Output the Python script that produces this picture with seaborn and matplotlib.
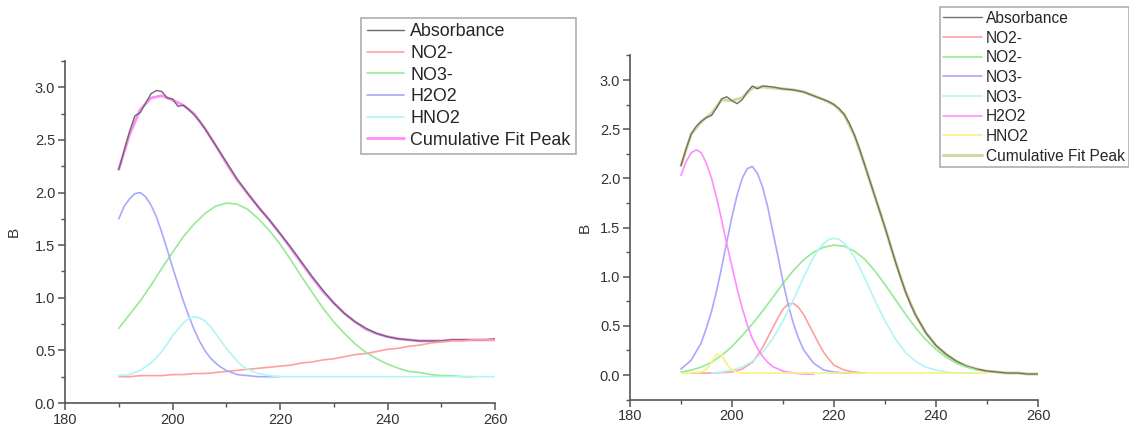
import numpy as np
import matplotlib
matplotlib.use("Agg")
import matplotlib.pyplot as plt
import seaborn as sns
from matplotlib.ticker import MultipleLocator, FormatStrFormatter

# ---- left panel (wavelength, nm) ----
L_x = [190, 192, 194, 196, 198, 200, 202, 204, 206, 208, 210, 212, 214, 216, 218,
       220, 222, 224, 226, 228, 230, 232, 234, 236, 238, 240, 242, 244, 246, 248,
       250, 252, 254, 256, 258, 260]
L_no2 = [0.25, 0.25, 0.26, 0.26, 0.26, 0.27, 0.27, 0.28, 0.28, 0.29, 0.30, 0.31, 0.32, 0.33, 0.34,
         0.35, 0.36, 0.38, 0.39, 0.41, 0.42, 0.44, 0.46, 0.47, 0.49, 0.51, 0.52, 0.54, 0.55, 0.57,
         0.58, 0.59, 0.59, 0.60, 0.60, 0.60]
L_fit = [2.22, 2.55, 2.79, 2.90, 2.92, 2.88, 2.83, 2.75, 2.61, 2.45, 2.28, 2.12, 1.99, 1.86, 1.74,
         1.61, 1.47, 1.33, 1.19, 1.06, 0.95, 0.85, 0.77, 0.70, 0.66, 0.63, 0.61, 0.60, 0.59, 0.59,
         0.59, 0.60, 0.60, 0.60, 0.60, 0.60]
L_no3_x = [190, 192, 194, 196, 198, 200, 202, 204, 206, 208, 210, 212, 214, 216, 218, 220, 222,
           224, 226, 228, 230, 232, 234, 236, 238, 240, 242, 244, 246, 248, 250, 252, 254, 256]
L_no3 = [0.71, 0.84, 0.97, 1.12, 1.28, 1.43, 1.58, 1.70, 1.80, 1.87, 1.90, 1.89, 1.84, 1.75, 1.64,
         1.51, 1.36, 1.20, 1.05, 0.90, 0.77, 0.66, 0.56, 0.48, 0.42, 0.37, 0.33, 0.30, 0.29, 0.27,
         0.26, 0.26, 0.25, 0.25]
L_h2o2_x = [190, 191, 192, 193, 194, 195, 196, 197, 198, 199, 200, 201, 202, 203, 204, 205, 206,
            207, 208, 209, 210, 212, 214, 216, 218, 220]
L_h2o2 = [1.75, 1.87, 1.94, 1.99, 2.00, 1.96, 1.88, 1.77, 1.62, 1.46, 1.29, 1.13, 0.97, 0.83, 0.70,
          0.59, 0.50, 0.43, 0.38, 0.34, 0.31, 0.27, 0.26, 0.25, 0.25, 0.25]
L_hno2_x = [190, 192, 194, 196, 197, 198, 199, 200, 201, 202, 203, 204, 205, 206, 207, 208, 209,
            210, 211, 212, 213, 214, 216, 218, 220, 240, 260]
L_hno2 = [0.26, 0.27, 0.31, 0.38, 0.43, 0.49, 0.56, 0.64, 0.70, 0.76, 0.80, 0.82, 0.81, 0.78, 0.73,
          0.66, 0.59, 0.52, 0.46, 0.40, 0.35, 0.32, 0.28, 0.26, 0.25, 0.25, 0.25]
L_abs_x = [190, 191, 192, 193, 194, 195, 196, 197, 198, 199, 200, 201, 202, 203, 204, 205, 206,
           208, 210, 212, 214, 216, 218, 220, 222, 224, 226, 228, 230, 232, 234, 236, 238, 240,
           242, 244, 246, 248, 250, 252, 254, 256, 258, 260]
L_abs = [2.22, 2.40, 2.58, 2.73, 2.76, 2.85, 2.94, 2.97, 2.96, 2.90, 2.89, 2.82, 2.83, 2.79, 2.74,
         2.68, 2.61, 2.45, 2.29, 2.13, 1.99, 1.86, 1.74, 1.61, 1.48, 1.34, 1.20, 1.07, 0.95, 0.85,
         0.77, 0.71, 0.66, 0.63, 0.61, 0.60, 0.59, 0.59, 0.59, 0.60, 0.60, 0.60, 0.60, 0.61]

# ---- right panel ----
R_x = [190, 192, 194, 196, 198, 200, 202, 204, 206, 208, 210, 212, 214, 216, 218,
       220, 222, 224, 226, 228, 230, 232, 234, 236, 238, 240, 242, 244, 246, 248,
       250, 252, 254, 256, 258, 260]
R_fit = [2.13, 2.45, 2.58, 2.66, 2.80, 2.79, 2.82, 2.92, 2.93, 2.92, 2.91, 2.90, 2.88, 2.84, 2.80,
         2.75, 2.65, 2.44, 2.14, 1.82, 1.50, 1.16, 0.85, 0.61, 0.43, 0.30, 0.21, 0.14, 0.09, 0.06,
         0.04, 0.03, 0.02, 0.02, 0.01, 0.01]
R_no2a_x = [192, 196, 200, 202, 204, 205, 206, 207, 208, 209, 210, 211, 212, 213, 214, 215, 216,
            217, 218, 219, 220, 222, 224, 226]
R_no2a = [0.02, 0.02, 0.03, 0.06, 0.13, 0.20, 0.28, 0.38, 0.48, 0.58, 0.67, 0.72, 0.73, 0.69, 0.62,
          0.52, 0.42, 0.32, 0.23, 0.16, 0.10, 0.05, 0.03, 0.02]
R_no2b_x = [190, 192, 194, 196, 198, 200, 202, 204, 206, 208, 210, 212, 214, 216, 218, 220, 222,
            224, 226, 228, 230, 232, 234, 236, 238, 240, 242, 244, 246, 248]
R_no2b = [0.03, 0.05, 0.08, 0.13, 0.20, 0.29, 0.40, 0.52, 0.65, 0.79, 0.93, 1.06, 1.17, 1.25, 1.30,
          1.32, 1.31, 1.26, 1.18, 1.06, 0.92, 0.77, 0.62, 0.48, 0.36, 0.26, 0.18, 0.12, 0.08, 0.05]
R_no3a_x = [190, 192, 194, 195, 196, 197, 198, 199, 200, 201, 202, 203, 204, 205, 206, 207, 208,
            209, 210, 211, 212, 213, 214, 216, 218, 220, 222, 224, 226]
R_no3a = [0.06, 0.15, 0.33, 0.48, 0.65, 0.86, 1.10, 1.36, 1.61, 1.83, 2.00, 2.10, 2.12, 2.05, 1.91,
          1.71, 1.46, 1.21, 0.95, 0.72, 0.53, 0.38, 0.26, 0.12, 0.05, 0.03, 0.02, 0.02, 0.02]
R_no3b_x = [196, 198, 200, 202, 204, 206, 208, 210, 212, 214, 216, 217, 218, 219, 220, 221, 222,
            223, 224, 226, 228, 230, 232, 234, 236, 238, 240, 242, 244, 246, 248]
R_no3b = [0.02, 0.03, 0.05, 0.08, 0.14, 0.23, 0.37, 0.55, 0.76, 0.99, 1.20, 1.28, 1.34, 1.38, 1.39,
          1.38, 1.34, 1.28, 1.20, 0.99, 0.76, 0.55, 0.37, 0.23, 0.14, 0.08, 0.05, 0.03, 0.02, 0.02,
          0.02]
R_h2o2_x = [190, 191, 192, 193, 194, 195, 196, 197, 198, 199, 200, 201, 202, 203, 204, 205, 206,
            207, 208, 210, 212, 214, 216]
R_h2o2 = [2.03, 2.17, 2.26, 2.29, 2.26, 2.15, 2.00, 1.80, 1.57, 1.33, 1.10, 0.88, 0.68, 0.51, 0.37,
          0.27, 0.19, 0.13, 0.085, 0.04, 0.02, 0.01, 0.01]
R_hno2_x = [190, 192, 194, 195, 196, 197, 198, 199, 200, 201, 202, 206, 210, 220, 230, 240, 250]
R_hno2 = [0.02, 0.02, 0.03, 0.06, 0.13, 0.21, 0.20, 0.11, 0.05, 0.03, 0.02, 0.02, 0.02, 0.02,
          0.02, 0.02, 0.02]
R_abs_x = [190, 191, 192, 193, 194, 195, 196, 197, 198, 199, 200, 201, 202, 203, 204, 205, 206,
           208, 210, 212, 214, 216, 218, 219, 220, 221, 222, 223, 224, 225, 226, 227, 228, 229,
           230, 231, 232, 233, 234, 235, 236, 238, 240, 242, 244, 246, 248, 250, 252, 254, 256,
           258, 260]
R_abs = [2.13, 2.30, 2.45, 2.53, 2.58, 2.62, 2.64, 2.72, 2.81, 2.83, 2.79, 2.76, 2.80, 2.88, 2.94,
         2.91, 2.94, 2.93, 2.91, 2.90, 2.88, 2.84, 2.80, 2.78, 2.75, 2.71, 2.65, 2.56, 2.44, 2.30,
         2.14, 1.98, 1.82, 1.66, 1.50, 1.33, 1.16, 1.00, 0.85, 0.72, 0.61, 0.43, 0.30, 0.21, 0.14,
         0.09, 0.06, 0.04, 0.03, 0.02, 0.02, 0.01, 0.01]

sns.set_theme(style="ticks")
plt.rcParams["font.family"] = ["Liberation Sans", "DejaVu Sans"]

fig = plt.figure(figsize=(11.29, 4.28), dpi=100)
ax1 = fig.add_axes([0.0576, 0.0584, 0.3809, 0.799])
ax2 = fig.add_axes([0.558, 0.0664, 0.3614, 0.804])

RED = "#ffa0a0"
GREEN = "#96ea96"
BLUE = "#a8a8ff"
CYAN = "#b0f6f6"
MAG = "#ff8cff"
YEL = "#f6f282"
LW = 1.2

# left
sns.lineplot(x=L_x, y=L_fit, ax=ax1, color=MAG, lw=2.0, label="Cumulative Fit Peak")
sns.lineplot(x=L_abs_x, y=L_abs, ax=ax1, color="#6a6a6a", lw=1.0, label="Absorbance")
sns.lineplot(x=L_x, y=L_no2, ax=ax1, color=RED, lw=LW, label="NO2-")
sns.lineplot(x=L_no3_x, y=L_no3, ax=ax1, color=GREEN, lw=LW, label="NO3-")
sns.lineplot(x=L_h2o2_x, y=L_h2o2, ax=ax1, color=BLUE, lw=LW, label="H2O2")
sns.lineplot(x=L_hno2_x, y=L_hno2, ax=ax1, color=CYAN, lw=LW, label="HNO2")

# right
sns.lineplot(x=R_x, y=R_fit, ax=ax2, color="#d6d6a2", lw=2.2, label="Cumulative Fit Peak")
sns.lineplot(x=R_abs_x, y=R_abs, ax=ax2, color="#727264", lw=1.0, label="Absorbance")
sns.lineplot(x=R_no2a_x, y=R_no2a, ax=ax2, color=RED, lw=LW, label="NO2-")
sns.lineplot(x=R_no2b_x, y=R_no2b, ax=ax2, color=GREEN, lw=LW, label="NO2-")
sns.lineplot(x=R_no3a_x, y=R_no3a, ax=ax2, color=BLUE, lw=LW, label="NO3-")
sns.lineplot(x=R_no3b_x, y=R_no3b, ax=ax2, color=CYAN, lw=LW, label="NO3-")
sns.lineplot(x=R_h2o2_x, y=R_h2o2, ax=ax2, color=MAG, lw=LW, label="H2O2")
sns.lineplot(x=R_hno2_x, y=R_hno2, ax=ax2, color=YEL, lw=LW, label="HNO2")

for ax, ylo in ((ax1, 0.0), (ax2, -0.25)):
    ax.set_xlim(180, 260)
    ax.set_ylim(ylo, 3.25)
    ax.xaxis.set_major_locator(MultipleLocator(20))
    ax.xaxis.set_minor_locator(MultipleLocator(10))
    ax.yaxis.set_major_locator(MultipleLocator(0.5))
    ax.yaxis.set_minor_locator(MultipleLocator(0.25))
    ax.yaxis.set_major_formatter(FormatStrFormatter("%.1f"))
    sns.despine(ax=ax)
    for s in ("left", "bottom"):
        ax.spines[s].set_color("#555555")
        ax.spines[s].set_linewidth(1.2)
    ax.tick_params(which="major", length=5, width=1.1, color="#555555",
                   labelsize=10.5, labelcolor="#333333", pad=2)
    ax.tick_params(which="minor", length=3, width=1.0, color="#555555")
    ax.set_xlabel("")

ax1.set_ylabel("B", fontsize=11, color="#333333", labelpad=10)
ax2.set_ylabel("B", fontsize=11, color="#333333", labelpad=6)

# legends: Absorbance first, cumulative fit last
h, l = ax1.get_legend_handles_labels()
order = [1, 2, 3, 4, 5, 0]
lg1 = ax1.legend([h[i] for i in order], [l[i] for i in order], loc="upper right",
                 bbox_to_anchor=(576 / 1129, 1 - 18 / 428), bbox_transform=fig.transFigure,
                 fontsize=12.9, frameon=True, fancybox=False, borderaxespad=0,
                 handlelength=2.1, handletextpad=0.33, labelspacing=0.26, borderpad=0.3)
lg1.get_frame().set_edgecolor("#999999")
lg1.get_frame().set_linewidth(1.2)

h, l = ax2.get_legend_handles_labels()
order = [1, 2, 3, 4, 5, 6, 7, 0]
lg2 = ax2.legend([h[i] for i in order], [l[i] for i in order], loc="upper right",
                 bbox_to_anchor=(1129 / 1129, 1 - 7 / 428), bbox_transform=fig.transFigure,
                 fontsize=11.2, frameon=True, fancybox=False, borderaxespad=0,
                 handlelength=2.45, handletextpad=0.3, labelspacing=0.3, borderpad=0.25)
lg2.get_frame().set_edgecolor("#999999")
lg2.get_frame().set_linewidth(1.2)

fig.savefig("out.png", dpi=100)
